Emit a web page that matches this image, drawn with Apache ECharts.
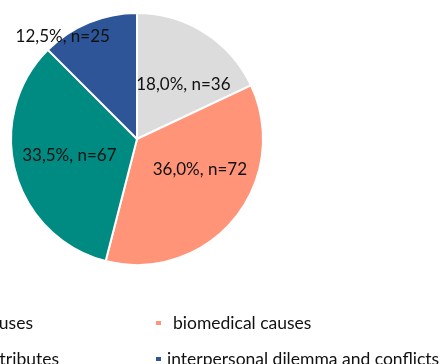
<!DOCTYPE html>
<html>
<head>
<meta charset="utf-8">
<script src="https://cdn.jsdelivr.net/npm/echarts@6/dist/echarts.min.js"></script>
<style>
  html, body { margin: 0; padding: 0; background: #fff; }
  #chart { width: 443px; height: 364px; }
</style>
</head>
<body>
<div id="chart"></div>
<script>
// Reported causes, clockwise from 12 o'clock
const categories = [
  'psychosocial causes',
  'biomedical causes',
  'personal attributes',
  'interpersonal dilemma and conflicts'
];
const counts = [36, 72, 67, 25];
const shares = ['18,0%', '36,0%', '33,5%', '12,5%'];

const colors = ['#DCDCDC', '#FF9479', '#008B82', '#2E5597'];
// label nudges away from the default inside position
const labelNudge = [[11, 1], [12, -12], [-4, -1], [-49, -42]];

const FONT = 'Lato, "Open Sans", sans-serif';

const chart = echarts.init(document.getElementById('chart'), null, { renderer: 'canvas' });

const legendBase = {
  orient: 'vertical',
  padding: 0,
  itemWidth: 7,
  itemHeight: 6,
  icon: 'rect',
  selectedMode: false,
  textStyle: { fontFamily: FONT, fontSize: 17.5, color: '#111' }
};

chart.setOption({
  animation: false,
  color: colors,
  legend: [
    Object.assign({}, legendBase, { data: [categories[0]], right: 410, top: 314 }),
    Object.assign({}, legendBase, { data: [categories[2]], right: 384, top: 350 }),
    Object.assign({}, legendBase, {
      data: [categories[1]], left: 154, top: 314,
      textStyle: Object.assign({}, legendBase.textStyle, { padding: [0, 0, 0, 6] })
    }),
    Object.assign({}, legendBase, { data: [categories[3]], left: 154, top: 350 })
  ],
  series: [{
    type: 'pie',
    center: [137, 139],
    radius: [0, 126],
    startAngle: 90,
    clockwise: true,
    itemStyle: { borderColor: '#fff', borderWidth: 2 },
    label: {
      position: 'inside',
      fontFamily: FONT,
      fontSize: 17,
      color: '#111'
    },
    labelLine: { show: false },
    emphasis: { disabled: true },
    data: categories.map((name, i) => ({
      name: name,
      value: counts[i],
      label: {
        formatter: shares[i] + ', n=' + counts[i],
        offset: labelNudge[i]
      }
    }))
  }]
});
</script>
</body>
</html>
